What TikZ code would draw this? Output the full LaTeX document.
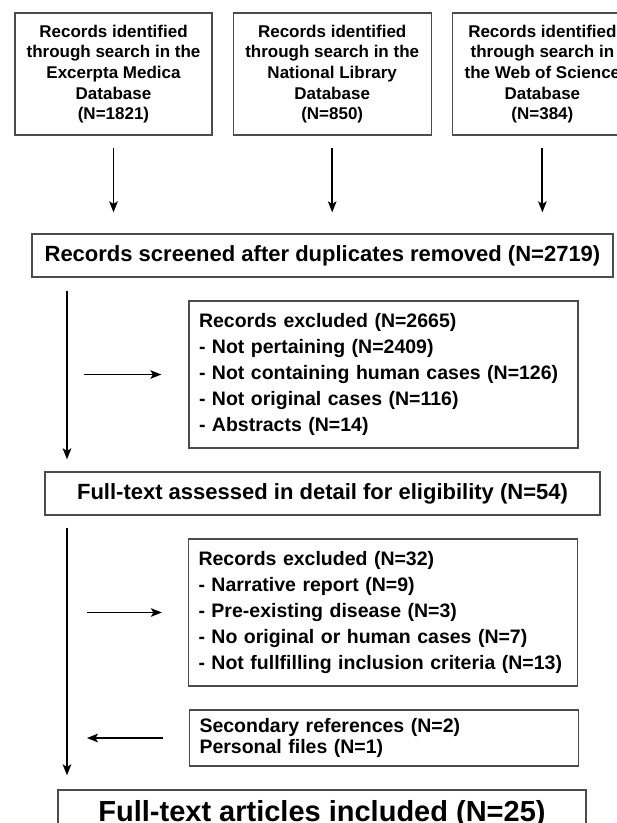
\documentclass[tikz,border=0pt]{standalone}
\usepackage{fontspec}
\setmainfont{Liberation Sans}
\usetikzlibrary{arrows.meta, positioning}

\begin{document}
\begin{tikzpicture}[x=1pt, y=-1pt, >={Stealth[length=11pt, width=8.5pt, inset=2.5pt]}]

% Styles
\tikzstyle{source} = [rectangle, draw=black!70, line width=1.2pt, minimum width=197pt, minimum height=122pt, inner sep=0pt, align=center, font=\fontsize{17}{20.7}\selectfont\bfseries]
\tikzstyle{stage} = [rectangle, draw=black!70, line width=1.2pt, minimum height=43pt, inner sep=0pt, font=\fontsize{22}{26}\selectfont\bfseries]
\tikzstyle{excluded} = [rectangle, draw=black!70, line width=1.2pt, text width=369pt, inner xsep=10pt, inner ysep=0pt, align=left, font=\fontsize{19.5}{26}\selectfont\bfseries]
\tikzstyle{arrow} = [line width=2.2pt,->]
\tikzstyle{sidearrow} = [line width=1.4pt,->]

% page frame
\useasboundingbox (0,0) rectangle (617,823);
\clip (0,0) rectangle (617,823);

% --- Nodes ---

% 1. Database searches
\node (src1) [source] at (113.5,74) {Records identified\\through search in the\\Excerpta Medica\\Database\\(N=1821)};
\node (src2) [source, minimum width=198pt, right=20pt of src1] {Records identified\\through search in the\\National Library\\Database\\(N=850)};
\node (src3) [source, minimum width=180pt, right=20pt of src2] {Records identified\\through search in\\the Web of Science\\Database\\(N=384)};

% 2. Screening
\node (screened) [stage, minimum width=581pt] at (322.5,255.5) {Records screened after duplicates removed (N=2719)};
\node (excl1) [excluded, minimum height=147pt] at (383.5,374.5) {Records excluded (N=2665)\\- Not pertaining (N=2409)\\- Not containing human cases (N=126)\\- Not original cases (N=116)\\- Abstracts (N=14)};

% 3. Eligibility
\node (fulltext) [stage, minimum width=555pt] at (322.5,493.5) {Full-text assessed in detail for eligibility (N=54)};
\node (excl2) [excluded, minimum height=147pt] at (383,612.5) {Records excluded (N=32)\\- Narrative report (N=9)\\- Pre-existing disease (N=3)\\- No original or human cases (N=7)\\- Not fullfilling inclusion criteria (N=13)};
\node (extra) [excluded, minimum height=56pt, font=\fontsize{19.5}{21}\selectfont\bfseries] at (384,738) {Secondary references (N=2)\\Personal files (N=1)};

% 4. Included
\node (included) [stage, minimum width=528pt, minimum height=47pt, font=\fontsize{29}{34}\selectfont\bfseries] at (322,813.5) {Full-text articles included (N=25)};

% --- Arrows ---
\foreach \s in {src1, src2, src3}
  \draw[arrow, line width=1.9pt, shorten <=12pt, shorten >=21pt] (\s.south) -- (\s.south |- screened.north);

\coordinate (trunk) at (67,0);
\draw[arrow, shorten <=13pt, shorten >=12pt] (screened.south -| trunk) -- (fulltext.north -| trunk);
\draw[arrow, shorten <=12pt, shorten >=14pt] (fulltext.south -| trunk) -- (included.north -| trunk);

% side branches
\draw[sidearrow] ([xshift=-104pt]excl1.west) -- ([xshift=-27pt]excl1.west);
\draw[sidearrow] ([xshift=-101pt]excl2.west) -- ([xshift=-26pt]excl2.west);
\draw[arrow] ([xshift=-26pt]extra.west) -- ([xshift=-102pt]extra.west);

\end{tikzpicture}
\end{document}
